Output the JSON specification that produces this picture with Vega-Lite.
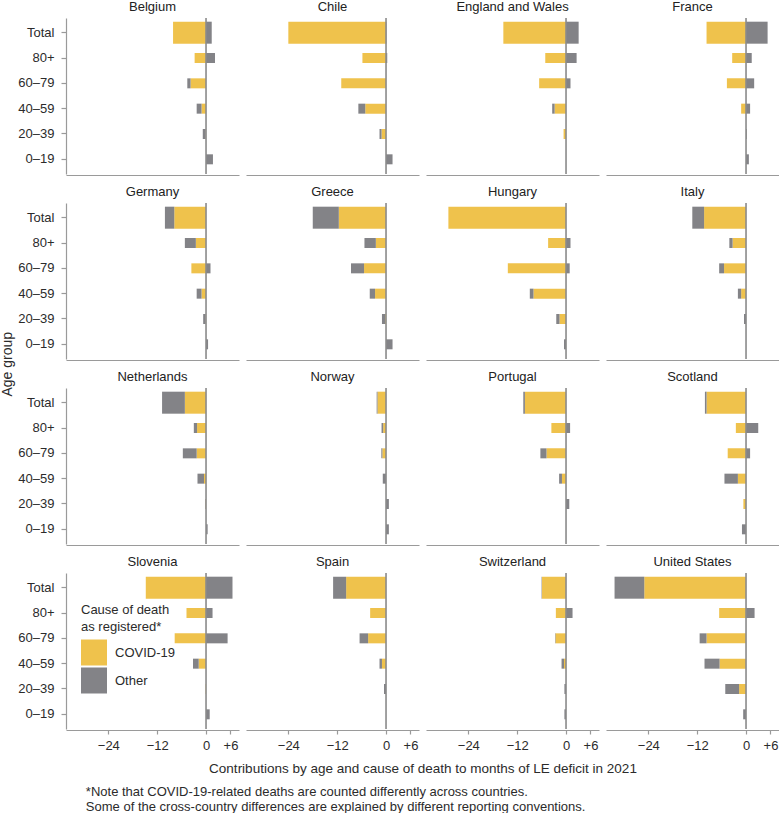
{
  "$schema": "https://vega.github.io/schema/vega-lite/v6.json",
  "background": "white",
  "padding": {"left": 0, "top": 1, "right": 0, "bottom": 2},
  "data": {"values": [
    {"country": "Belgium", "age": "Total", "cause": "COVID-19", "value": -8.1},
    {"country": "Belgium", "age": "Total", "cause": "Other", "value": 1.4},
    {"country": "Belgium", "age": "80+", "cause": "COVID-19", "value": -2.8},
    {"country": "Belgium", "age": "80+", "cause": "Other", "value": 2.2},
    {"country": "Belgium", "age": "60–79", "cause": "COVID-19", "value": -3.8},
    {"country": "Belgium", "age": "60–79", "cause": "Other", "value": -0.8},
    {"country": "Belgium", "age": "40–59", "cause": "COVID-19", "value": -1.1},
    {"country": "Belgium", "age": "40–59", "cause": "Other", "value": -1.2},
    {"country": "Belgium", "age": "20–39", "cause": "COVID-19", "value": -0.1},
    {"country": "Belgium", "age": "20–39", "cause": "Other", "value": -0.7},
    {"country": "Belgium", "age": "0–19", "cause": "COVID-19", "value": 0},
    {"country": "Belgium", "age": "0–19", "cause": "Other", "value": 1.7},
    {"country": "Chile", "age": "Total", "cause": "COVID-19", "value": -24.0},
    {"country": "Chile", "age": "Total", "cause": "Other", "value": 0.1},
    {"country": "Chile", "age": "80+", "cause": "COVID-19", "value": -5.8},
    {"country": "Chile", "age": "80+", "cause": "Other", "value": 0.3},
    {"country": "Chile", "age": "60–79", "cause": "COVID-19", "value": -11.0},
    {"country": "Chile", "age": "60–79", "cause": "Other", "value": 0},
    {"country": "Chile", "age": "40–59", "cause": "COVID-19", "value": -5.1},
    {"country": "Chile", "age": "40–59", "cause": "Other", "value": -1.7},
    {"country": "Chile", "age": "20–39", "cause": "COVID-19", "value": -1.1},
    {"country": "Chile", "age": "20–39", "cause": "Other", "value": -0.5},
    {"country": "Chile", "age": "0–19", "cause": "COVID-19", "value": 0},
    {"country": "Chile", "age": "0–19", "cause": "Other", "value": 1.6},
    {"country": "England and Wales", "age": "Total", "cause": "COVID-19", "value": -15.4},
    {"country": "England and Wales", "age": "Total", "cause": "Other", "value": 3.1},
    {"country": "England and Wales", "age": "80+", "cause": "COVID-19", "value": -5.1},
    {"country": "England and Wales", "age": "80+", "cause": "Other", "value": 2.6},
    {"country": "England and Wales", "age": "60–79", "cause": "COVID-19", "value": -6.6},
    {"country": "England and Wales", "age": "60–79", "cause": "Other", "value": 1.1},
    {"country": "England and Wales", "age": "40–59", "cause": "COVID-19", "value": -2.8},
    {"country": "England and Wales", "age": "40–59", "cause": "Other", "value": -0.6},
    {"country": "England and Wales", "age": "20–39", "cause": "COVID-19", "value": -0.6},
    {"country": "England and Wales", "age": "20–39", "cause": "Other", "value": 0},
    {"country": "England and Wales", "age": "0–19", "cause": "COVID-19", "value": 0},
    {"country": "England and Wales", "age": "0–19", "cause": "Other", "value": 0},
    {"country": "France", "age": "Total", "cause": "COVID-19", "value": -9.7},
    {"country": "France", "age": "Total", "cause": "Other", "value": 5.3},
    {"country": "France", "age": "80+", "cause": "COVID-19", "value": -3.4},
    {"country": "France", "age": "80+", "cause": "Other", "value": 1.4},
    {"country": "France", "age": "60–79", "cause": "COVID-19", "value": -4.7},
    {"country": "France", "age": "60–79", "cause": "Other", "value": 2.0},
    {"country": "France", "age": "40–59", "cause": "COVID-19", "value": -1.2},
    {"country": "France", "age": "40–59", "cause": "Other", "value": 1.0},
    {"country": "France", "age": "20–39", "cause": "COVID-19", "value": 0},
    {"country": "France", "age": "20–39", "cause": "Other", "value": 0.2},
    {"country": "France", "age": "0–19", "cause": "COVID-19", "value": 0},
    {"country": "France", "age": "0–19", "cause": "Other", "value": 0.7},
    {"country": "Germany", "age": "Total", "cause": "COVID-19", "value": -7.8},
    {"country": "Germany", "age": "Total", "cause": "Other", "value": -2.3},
    {"country": "Germany", "age": "80+", "cause": "COVID-19", "value": -2.5},
    {"country": "Germany", "age": "80+", "cause": "Other", "value": -2.7},
    {"country": "Germany", "age": "60–79", "cause": "COVID-19", "value": -3.6},
    {"country": "Germany", "age": "60–79", "cause": "Other", "value": 1.1},
    {"country": "Germany", "age": "40–59", "cause": "COVID-19", "value": -1.1},
    {"country": "Germany", "age": "40–59", "cause": "Other", "value": -1.2},
    {"country": "Germany", "age": "20–39", "cause": "COVID-19", "value": -0.1},
    {"country": "Germany", "age": "20–39", "cause": "Other", "value": -0.6},
    {"country": "Germany", "age": "0–19", "cause": "COVID-19", "value": 0},
    {"country": "Germany", "age": "0–19", "cause": "Other", "value": 0.5},
    {"country": "Greece", "age": "Total", "cause": "COVID-19", "value": -11.6},
    {"country": "Greece", "age": "Total", "cause": "Other", "value": -6.4},
    {"country": "Greece", "age": "80+", "cause": "COVID-19", "value": -2.5},
    {"country": "Greece", "age": "80+", "cause": "Other", "value": -2.8},
    {"country": "Greece", "age": "60–79", "cause": "COVID-19", "value": -5.4},
    {"country": "Greece", "age": "60–79", "cause": "Other", "value": -3.2},
    {"country": "Greece", "age": "40–59", "cause": "COVID-19", "value": -2.7},
    {"country": "Greece", "age": "40–59", "cause": "Other", "value": -1.3},
    {"country": "Greece", "age": "20–39", "cause": "COVID-19", "value": -0.2},
    {"country": "Greece", "age": "20–39", "cause": "Other", "value": -0.8},
    {"country": "Greece", "age": "0–19", "cause": "COVID-19", "value": 0},
    {"country": "Greece", "age": "0–19", "cause": "Other", "value": 1.6},
    {"country": "Hungary", "age": "Total", "cause": "COVID-19", "value": -28.9},
    {"country": "Hungary", "age": "Total", "cause": "Other", "value": 0},
    {"country": "Hungary", "age": "80+", "cause": "COVID-19", "value": -4.4},
    {"country": "Hungary", "age": "80+", "cause": "Other", "value": 1.1},
    {"country": "Hungary", "age": "60–79", "cause": "COVID-19", "value": -14.3},
    {"country": "Hungary", "age": "60–79", "cause": "Other", "value": 0.9},
    {"country": "Hungary", "age": "40–59", "cause": "COVID-19", "value": -8.0},
    {"country": "Hungary", "age": "40–59", "cause": "Other", "value": -0.9},
    {"country": "Hungary", "age": "20–39", "cause": "COVID-19", "value": -1.6},
    {"country": "Hungary", "age": "20–39", "cause": "Other", "value": -0.8},
    {"country": "Hungary", "age": "0–19", "cause": "COVID-19", "value": 0},
    {"country": "Hungary", "age": "0–19", "cause": "Other", "value": -0.5},
    {"country": "Italy", "age": "Total", "cause": "COVID-19", "value": -10.3},
    {"country": "Italy", "age": "Total", "cause": "Other", "value": -2.9},
    {"country": "Italy", "age": "80+", "cause": "COVID-19", "value": -3.3},
    {"country": "Italy", "age": "80+", "cause": "Other", "value": -0.8},
    {"country": "Italy", "age": "60–79", "cause": "COVID-19", "value": -5.4},
    {"country": "Italy", "age": "60–79", "cause": "Other", "value": -1.2},
    {"country": "Italy", "age": "40–59", "cause": "COVID-19", "value": -1.2},
    {"country": "Italy", "age": "40–59", "cause": "Other", "value": -0.8},
    {"country": "Italy", "age": "20–39", "cause": "COVID-19", "value": 0},
    {"country": "Italy", "age": "20–39", "cause": "Other", "value": -0.5},
    {"country": "Italy", "age": "0–19", "cause": "COVID-19", "value": 0},
    {"country": "Italy", "age": "0–19", "cause": "Other", "value": 0},
    {"country": "Netherlands", "age": "Total", "cause": "COVID-19", "value": -5.2},
    {"country": "Netherlands", "age": "Total", "cause": "Other", "value": -5.6},
    {"country": "Netherlands", "age": "80+", "cause": "COVID-19", "value": -2.2},
    {"country": "Netherlands", "age": "80+", "cause": "Other", "value": -0.8},
    {"country": "Netherlands", "age": "60–79", "cause": "COVID-19", "value": -2.3},
    {"country": "Netherlands", "age": "60–79", "cause": "Other", "value": -3.4},
    {"country": "Netherlands", "age": "40–59", "cause": "COVID-19", "value": -0.5},
    {"country": "Netherlands", "age": "40–59", "cause": "Other", "value": -1.6},
    {"country": "Netherlands", "age": "20–39", "cause": "COVID-19", "value": -0.1},
    {"country": "Netherlands", "age": "20–39", "cause": "Other", "value": -0.1},
    {"country": "Netherlands", "age": "0–19", "cause": "COVID-19", "value": 0},
    {"country": "Netherlands", "age": "0–19", "cause": "Other", "value": 0.4},
    {"country": "Norway", "age": "Total", "cause": "COVID-19", "value": -2.1},
    {"country": "Norway", "age": "Total", "cause": "Other", "value": -0.2},
    {"country": "Norway", "age": "80+", "cause": "COVID-19", "value": -0.7},
    {"country": "Norway", "age": "80+", "cause": "Other", "value": -0.4},
    {"country": "Norway", "age": "60–79", "cause": "COVID-19", "value": -0.9},
    {"country": "Norway", "age": "60–79", "cause": "Other", "value": -0.25},
    {"country": "Norway", "age": "40–59", "cause": "COVID-19", "value": 0},
    {"country": "Norway", "age": "40–59", "cause": "Other", "value": -0.8},
    {"country": "Norway", "age": "20–39", "cause": "COVID-19", "value": 0},
    {"country": "Norway", "age": "20–39", "cause": "Other", "value": 0.7},
    {"country": "Norway", "age": "0–19", "cause": "COVID-19", "value": 0},
    {"country": "Norway", "age": "0–19", "cause": "Other", "value": 0.7},
    {"country": "Portugal", "age": "Total", "cause": "COVID-19", "value": -10.1},
    {"country": "Portugal", "age": "Total", "cause": "Other", "value": -0.4},
    {"country": "Portugal", "age": "80+", "cause": "COVID-19", "value": -3.6},
    {"country": "Portugal", "age": "80+", "cause": "Other", "value": 1.0},
    {"country": "Portugal", "age": "60–79", "cause": "COVID-19", "value": -4.8},
    {"country": "Portugal", "age": "60–79", "cause": "Other", "value": -1.5},
    {"country": "Portugal", "age": "40–59", "cause": "COVID-19", "value": -1.0},
    {"country": "Portugal", "age": "40–59", "cause": "Other", "value": -0.7},
    {"country": "Portugal", "age": "20–39", "cause": "COVID-19", "value": 0},
    {"country": "Portugal", "age": "20–39", "cause": "Other", "value": 0.8},
    {"country": "Portugal", "age": "0–19", "cause": "COVID-19", "value": 0},
    {"country": "Portugal", "age": "0–19", "cause": "Other", "value": 0},
    {"country": "Scotland", "age": "Total", "cause": "COVID-19", "value": -9.7},
    {"country": "Scotland", "age": "Total", "cause": "Other", "value": -0.4},
    {"country": "Scotland", "age": "80+", "cause": "COVID-19", "value": -2.5},
    {"country": "Scotland", "age": "80+", "cause": "Other", "value": 3.0},
    {"country": "Scotland", "age": "60–79", "cause": "COVID-19", "value": -4.5},
    {"country": "Scotland", "age": "60–79", "cause": "Other", "value": 1.0},
    {"country": "Scotland", "age": "40–59", "cause": "COVID-19", "value": -2.0},
    {"country": "Scotland", "age": "40–59", "cause": "Other", "value": -3.3},
    {"country": "Scotland", "age": "20–39", "cause": "COVID-19", "value": -0.65},
    {"country": "Scotland", "age": "20–39", "cause": "Other", "value": 0},
    {"country": "Scotland", "age": "0–19", "cause": "COVID-19", "value": 0},
    {"country": "Scotland", "age": "0–19", "cause": "Other", "value": -1.0},
    {"country": "Slovenia", "age": "Total", "cause": "COVID-19", "value": -14.8},
    {"country": "Slovenia", "age": "Total", "cause": "Other", "value": 6.5},
    {"country": "Slovenia", "age": "80+", "cause": "COVID-19", "value": -4.8},
    {"country": "Slovenia", "age": "80+", "cause": "Other", "value": 1.6},
    {"country": "Slovenia", "age": "60–79", "cause": "COVID-19", "value": -7.7},
    {"country": "Slovenia", "age": "60–79", "cause": "Other", "value": 5.3},
    {"country": "Slovenia", "age": "40–59", "cause": "COVID-19", "value": -1.8},
    {"country": "Slovenia", "age": "40–59", "cause": "Other", "value": -1.4},
    {"country": "Slovenia", "age": "20–39", "cause": "COVID-19", "value": -0.1},
    {"country": "Slovenia", "age": "20–39", "cause": "Other", "value": 0},
    {"country": "Slovenia", "age": "0–19", "cause": "COVID-19", "value": 0},
    {"country": "Slovenia", "age": "0–19", "cause": "Other", "value": 0.9},
    {"country": "Spain", "age": "Total", "cause": "COVID-19", "value": -9.8},
    {"country": "Spain", "age": "Total", "cause": "Other", "value": -3.2},
    {"country": "Spain", "age": "80+", "cause": "COVID-19", "value": -3.9},
    {"country": "Spain", "age": "80+", "cause": "Other", "value": 0},
    {"country": "Spain", "age": "60–79", "cause": "COVID-19", "value": -4.4},
    {"country": "Spain", "age": "60–79", "cause": "Other", "value": -2.1},
    {"country": "Spain", "age": "40–59", "cause": "COVID-19", "value": -1.0},
    {"country": "Spain", "age": "40–59", "cause": "Other", "value": -0.6},
    {"country": "Spain", "age": "20–39", "cause": "COVID-19", "value": 0},
    {"country": "Spain", "age": "20–39", "cause": "Other", "value": -0.5},
    {"country": "Spain", "age": "0–19", "cause": "COVID-19", "value": 0},
    {"country": "Spain", "age": "0–19", "cause": "Other", "value": 0},
    {"country": "Switzerland", "age": "Total", "cause": "COVID-19", "value": -5.9},
    {"country": "Switzerland", "age": "Total", "cause": "Other", "value": -0.1},
    {"country": "Switzerland", "age": "80+", "cause": "COVID-19", "value": -2.5},
    {"country": "Switzerland", "age": "80+", "cause": "Other", "value": 1.6},
    {"country": "Switzerland", "age": "60–79", "cause": "COVID-19", "value": -2.6},
    {"country": "Switzerland", "age": "60–79", "cause": "Other", "value": -0.1},
    {"country": "Switzerland", "age": "40–59", "cause": "COVID-19", "value": -0.5},
    {"country": "Switzerland", "age": "40–59", "cause": "Other", "value": -0.6},
    {"country": "Switzerland", "age": "20–39", "cause": "COVID-19", "value": 0},
    {"country": "Switzerland", "age": "20–39", "cause": "Other", "value": -0.4},
    {"country": "Switzerland", "age": "0–19", "cause": "COVID-19", "value": 0},
    {"country": "Switzerland", "age": "0–19", "cause": "Other", "value": -0.4},
    {"country": "United States", "age": "Total", "cause": "COVID-19", "value": -25.0},
    {"country": "United States", "age": "Total", "cause": "Other", "value": -7.3},
    {"country": "United States", "age": "80+", "cause": "COVID-19", "value": -6.6},
    {"country": "United States", "age": "80+", "cause": "Other", "value": 2.1},
    {"country": "United States", "age": "60–79", "cause": "COVID-19", "value": -9.7},
    {"country": "United States", "age": "60–79", "cause": "Other", "value": -1.7},
    {"country": "United States", "age": "40–59", "cause": "COVID-19", "value": -6.5},
    {"country": "United States", "age": "40–59", "cause": "Other", "value": -3.7},
    {"country": "United States", "age": "20–39", "cause": "COVID-19", "value": -1.7},
    {"country": "United States", "age": "20–39", "cause": "Other", "value": -3.4},
    {"country": "United States", "age": "0–19", "cause": "COVID-19", "value": 0},
    {"country": "United States", "age": "0–19", "cause": "Other", "value": -0.7}
  ]},
  "config": {
    "font": "Liberation Sans",
    "view": {"stroke": null},
    "axis": {"grid": false, "domainColor": "#9a9a9a", "domainWidth": 1.2, "tickColor": "#9a9a9a", "tickWidth": 1.2, "labelColor": "#2b2b2b", "labelFontSize": 13, "labelFont": "Liberation Sans", "titleFontWeight": "normal", "titleFontSize": 13, "titleColor": "#2b2b2b"},
    "axisY": {"tickSize": 5, "labelPadding": 7},
    "axisX": {"tickSize": 4, "labelPadding": 5},
    "header": {"labelFontSize": 13, "labelColor": "#222", "labelFont": "Liberation Sans", "labelPadding": 3, "titleFontSize": 13.5, "titleFontWeight": "normal", "titleColor": "#2b2b2b", "titleFont": "Liberation Sans"},
    "legend": {"titleFontSize": 13, "titleFontWeight": "normal", "titleColor": "#2b2b2b", "titleLineHeight": 16.5, "titlePadding": 6, "labelFontSize": 13, "labelColor": "#2b2b2b", "symbolType": "square", "symbolSize": 676, "symbolStrokeWidth": 0, "symbolOpacity": 1, "rowPadding": 2, "labelOffset": 8, "padding": 0},
    "title": {"font": "Liberation Sans", "fontWeight": "normal", "fontSize": 13, "color": "#2b2b2b"}
  },
  "title": {"text": ["*Note that COVID-19-related deaths are counted differently across countries.", "Some of the cross-country differences are explained by different reporting conventions."], "orient": "bottom", "anchor": "start", "lineHeight": 15, "offset": 10, "dx": 85},
  "vconcat": [
    {
      "title": {"text": "Age group", "orient": "left", "anchor": "middle", "offset": 3, "fontSize": 14, "dx": 24},
      "spacing": 11,
      "vconcat": [
        {
          "transform": [{"filter": {"field": "country", "oneOf": ["Belgium", "Chile", "England and Wales", "France"]}}],
          "facet": {"column": {"field": "country", "type": "nominal", "sort": ["Belgium", "Chile", "England and Wales", "France"], "header": {"title": null}}},
          "spacing": 7,
          "spec": {
            "width": 173, "height": 156,
            "layer": [
              {"mark": {"type": "bar"},
               "encoding": {
                 "y": {"field": "age", "type": "nominal", "sort": ["Total", "80+", "60–79", "40–59", "20–39", "0–19"], "scale": {"paddingInner": 0, "paddingOuter": 0.08}, "axis": {"title": null}},
                 "x": {"field": "value", "type": "quantitative", "stack": "zero", "scale": {"domain": [-34.4, 8.1], "nice": false, "zero": false}, "axis": {"title": null, "labels": false, "ticks": false, "values": [-24, -12, 0, 6]}},
                 "color": {"field": "cause", "type": "nominal", "scale": {"domain": ["COVID-19", "Other"], "range": ["#EFC24C", "#838387"]}, "legend": {"title": ["Cause of death", "as registered*"], "orient": "none", "legendX": 15, "legendY": 586}},
                 "order": {"field": "cause", "sort": "ascending"},
                 "size": {"condition": {"test": "datum.age === 'Total'", "value": 22}, "value": 10}
               }},
              {"transform": [{"filter": "datum.age === 'Total' && datum.cause === 'COVID-19'"}],
               "mark": {"type": "rule", "color": "#8a8a8a", "strokeWidth": 1.6},
               "encoding": {"x": {"datum": 0}}}
            ]
          }
        },
        {
          "transform": [{"filter": {"field": "country", "oneOf": ["Germany", "Greece", "Hungary", "Italy"]}}],
          "facet": {"column": {"field": "country", "type": "nominal", "sort": ["Germany", "Greece", "Hungary", "Italy"], "header": {"title": null}}},
          "spacing": 7,
          "spec": {
            "width": 173, "height": 156,
            "layer": [
              {"mark": {"type": "bar"},
               "encoding": {
                 "y": {"field": "age", "type": "nominal", "sort": ["Total", "80+", "60–79", "40–59", "20–39", "0–19"], "scale": {"paddingInner": 0, "paddingOuter": 0.08}, "axis": {"title": null}},
                 "x": {"field": "value", "type": "quantitative", "stack": "zero", "scale": {"domain": [-34.4, 8.1], "nice": false, "zero": false}, "axis": {"title": null, "labels": false, "ticks": false, "values": [-24, -12, 0, 6]}},
                 "color": {"field": "cause", "type": "nominal", "scale": {"domain": ["COVID-19", "Other"], "range": ["#EFC24C", "#838387"]}, "legend": {"title": ["Cause of death", "as registered*"], "orient": "none", "legendX": 15, "legendY": 586}},
                 "order": {"field": "cause", "sort": "ascending"},
                 "size": {"condition": {"test": "datum.age === 'Total'", "value": 22}, "value": 10}
               }},
              {"transform": [{"filter": "datum.age === 'Total' && datum.cause === 'COVID-19'"}],
               "mark": {"type": "rule", "color": "#8a8a8a", "strokeWidth": 1.6},
               "encoding": {"x": {"datum": 0}}}
            ]
          }
        },
        {
          "transform": [{"filter": {"field": "country", "oneOf": ["Netherlands", "Norway", "Portugal", "Scotland"]}}],
          "facet": {"column": {"field": "country", "type": "nominal", "sort": ["Netherlands", "Norway", "Portugal", "Scotland"], "header": {"title": null}}},
          "spacing": 7,
          "spec": {
            "width": 173, "height": 156,
            "layer": [
              {"mark": {"type": "bar"},
               "encoding": {
                 "y": {"field": "age", "type": "nominal", "sort": ["Total", "80+", "60–79", "40–59", "20–39", "0–19"], "scale": {"paddingInner": 0, "paddingOuter": 0.08}, "axis": {"title": null}},
                 "x": {"field": "value", "type": "quantitative", "stack": "zero", "scale": {"domain": [-34.4, 8.1], "nice": false, "zero": false}, "axis": {"title": null, "labels": false, "ticks": false, "values": [-24, -12, 0, 6]}},
                 "color": {"field": "cause", "type": "nominal", "scale": {"domain": ["COVID-19", "Other"], "range": ["#EFC24C", "#838387"]}, "legend": {"title": ["Cause of death", "as registered*"], "orient": "none", "legendX": 15, "legendY": 586}},
                 "order": {"field": "cause", "sort": "ascending"},
                 "size": {"condition": {"test": "datum.age === 'Total'", "value": 22}, "value": 10}
               }},
              {"transform": [{"filter": "datum.age === 'Total' && datum.cause === 'COVID-19'"}],
               "mark": {"type": "rule", "color": "#8a8a8a", "strokeWidth": 1.6},
               "encoding": {"x": {"datum": 0}}}
            ]
          }
        },
        {
          "transform": [{"filter": {"field": "country", "oneOf": ["Slovenia", "Spain", "Switzerland", "United States"]}}],
          "facet": {"column": {"field": "country", "type": "nominal", "sort": ["Slovenia", "Spain", "Switzerland", "United States"], "header": {"title": "Contributions by age and cause of death to months of LE deficit in 2021", "titleOrient": "bottom", "labelOrient": "top", "titlePadding": 0}}},
          "spacing": 7,
          "spec": {
            "width": 173, "height": 156,
            "layer": [
              {"mark": {"type": "bar"},
               "encoding": {
                 "y": {"field": "age", "type": "nominal", "sort": ["Total", "80+", "60–79", "40–59", "20–39", "0–19"], "scale": {"paddingInner": 0, "paddingOuter": 0.08}, "axis": {"title": null}},
                 "x": {"field": "value", "type": "quantitative", "stack": "zero", "scale": {"domain": [-34.4, 8.1], "nice": false, "zero": false}, "axis": {"title": null, "values": [-24, -12, 0, 6], "labelExpr": "datum.value > 0 ? '+' + datum.value : (datum.value < 0 ? '−' + (-datum.value) : '0')"}},
                 "color": {"field": "cause", "type": "nominal", "scale": {"domain": ["COVID-19", "Other"], "range": ["#EFC24C", "#838387"]}, "legend": {"title": ["Cause of death", "as registered*"], "orient": "none", "legendX": 15, "legendY": 586}},
                 "order": {"field": "cause", "sort": "ascending"},
                 "size": {"condition": {"test": "datum.age === 'Total'", "value": 22}, "value": 10}
               }},
              {"transform": [{"filter": "datum.age === 'Total' && datum.cause === 'COVID-19'"}],
               "mark": {"type": "rule", "color": "#8a8a8a", "strokeWidth": 1.6},
               "encoding": {"x": {"datum": 0}}}
            ]
          }
        }
      ]
    }
  ]
}
